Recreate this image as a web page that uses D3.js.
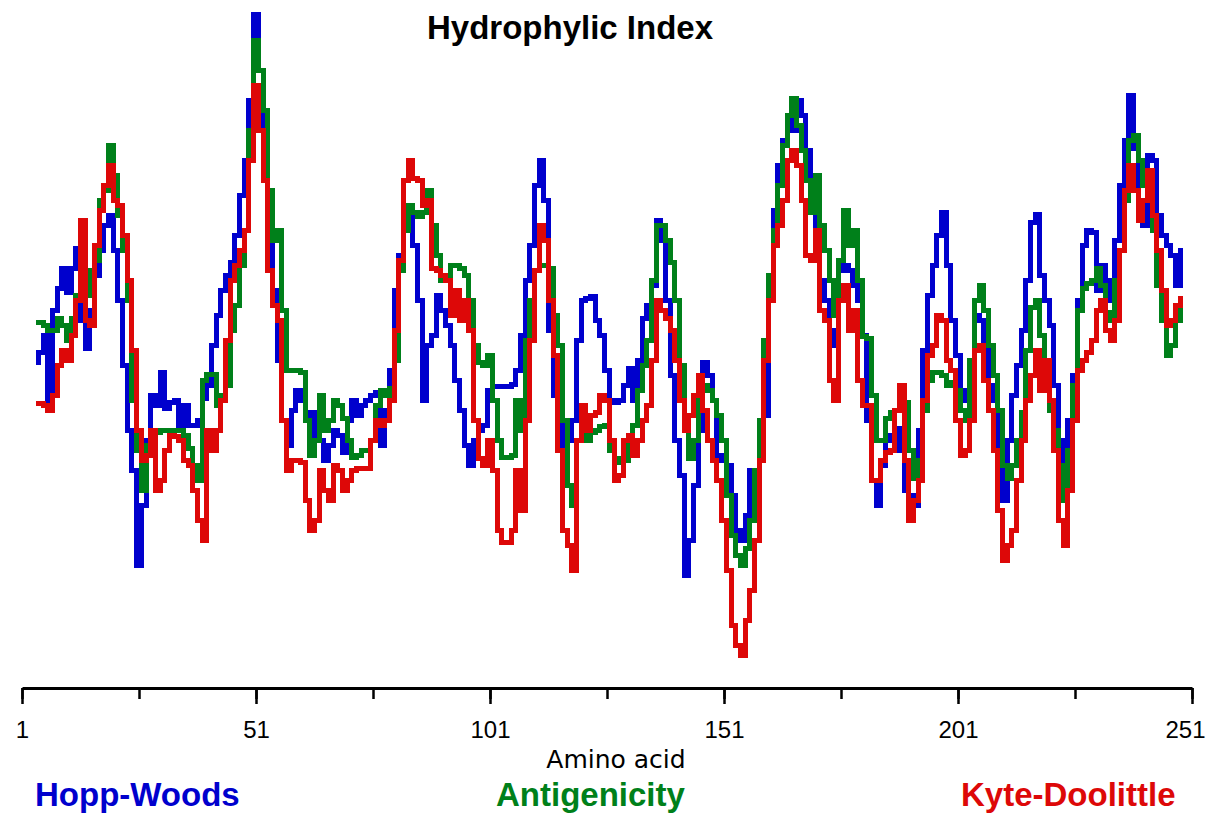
<!DOCTYPE html>
<meta charset="utf-8">
<script src="https://d3js.org/d3.v7.min.js"></script>
<style>
  body { margin: 0; background: #fff; }
  .axis text { font-family: "Liberation Sans", Arial, sans-serif; font-size: 24px; fill: #000; }
</style>
<svg id="chart" width="1210" height="815"></svg>

<script>

// Window-averaged profiles, one value per residue, starting at residue 4
const firstResidue = 4;

const hoppWoods = [
  0.18, 0.28, 0.45, -0.25, 0.70, 0.92, 1.12, 0.88, 1.12, 1.32,
  0.60, 0.32, 0.70, 1.05, 1.30, 1.55, 1.65, 1.30, 0.80, 0.15,
  -0.50, -0.90, -1.85, -1.25, -0.60, -0.15, -0.25, 0.08, -0.28, -0.22,
  -0.20, -0.48, -0.25, -0.45, -0.45, -0.40, -0.18, -0.05, 0.35, 0.65,
  0.90, 1.05, 1.18, 1.45, 1.85, 2.20, 2.80, 3.66, 3.10, 2.30,
  1.50, 0.90, 0.20, -0.40, -0.65, -0.30, -0.10, -0.20, -0.35, -0.32,
  -0.55, -0.60, -0.80, -0.65, -0.50, -0.55, -0.72, -0.40, -0.20, -0.35,
  -0.25, -0.20, -0.15, -0.12, -0.65, -0.30, 0.10, 0.90, 1.25, 1.50,
  1.65, 1.35, 0.80, -0.20, 0.35, 0.45, 0.85, 0.70, 0.55, 0.35,
  0.00, -0.30, -0.65, -0.85, -0.60, -0.50, -0.45, -0.10, -0.06, -0.06,
  -0.06, -0.06, -0.04, 0.10, 0.45, 1.00, 1.35, 1.95, 2.20, 1.80,
  0.50, -0.15, -0.40, -0.65, -0.60, -0.40, 0.40, 0.80, 0.82, 0.84,
  0.60, 0.45, 0.10, -0.20, -0.22, -0.20, -0.05, 0.12, -0.20, 0.20,
  0.62, 0.75, 0.95, 1.60, 1.40, 0.80, 0.05, -0.60, -0.95, -1.95,
  -1.60, -1.05, -0.50, 0.18, 0.05, -0.20, -0.75, -0.80, -0.85, -1.15,
  -1.50, -1.60, -1.35, -0.90, -1.00, -0.50, -0.35, 0.90, 1.70, 2.15,
  2.40, 2.65, 2.50, 2.80, 2.65, 2.30, 1.85, 1.20, 1.00, 0.80,
  0.50, 0.35, 1.10, 1.15, 1.10, 0.95, 0.80, 0.45, -0.40, -1.00,
  -1.25, -0.85, -0.60, -0.55, -0.48, -0.70, -1.10, -1.15, -1.25, -0.50,
  0.30, 0.85, 1.15, 1.45, 1.68, 1.15, 0.60, 0.25, -0.10, -0.20,
  0.20, 0.65, 0.60, 0.35, -0.05, -0.20, -0.80, -1.20, -0.60, -0.15,
  0.15, 0.50, 1.00, 1.58, 1.66, 1.05, 0.80, 0.55, -0.05, -0.60,
  -1.00, -0.40, 0.05, 0.80, 1.35, 1.50, 1.48, 0.90, 1.15, 1.00,
  0.80, 1.40, 1.95, 2.40, 2.85, 2.32, 1.80, 1.55, 2.25, 2.20,
  1.65, 1.45, 1.35, 1.25, 0.95, 1.30
];

const antigenicity = [
  0.58, 0.58, 0.55, 0.50, 0.50, 0.62, 0.55, 0.40, 0.62, 0.85,
  1.30, 1.10, 0.85, 1.20, 1.80, 1.90, 2.35, 2.05, 1.65, 1.30,
  0.80, -0.20, -0.70, -1.10, -0.65, -0.52, -0.52, -0.50, -0.50, -0.50,
  -0.50, -0.50, -0.55, -0.68, -0.85, -1.00, 0.00, 0.06, 0.06, -0.25,
  -0.15, -0.05, 0.50, 0.75, 1.15, 1.50, 2.50, 3.40, 3.10, 2.70,
  1.90, 1.40, 1.50, 0.70, 0.10, 0.10, 0.10, 0.08, -0.40, -0.75,
  -0.60, -0.15, -0.50, -0.40, -0.20, -0.25, -0.38, -0.60, -0.77, -0.75,
  -0.70, -0.70, -0.60, -0.25, -0.10, -0.15, -0.08, 0.20, 1.10, 1.50,
  1.75, 1.68, 1.64, 1.68, 1.90, 1.55, 1.25, 1.00, 1.05, 1.15,
  1.15, 1.12, 1.05, 0.80, 0.35, 0.18, 0.15, 0.25, -0.20, -0.60,
  -0.77, -0.77, -0.75, -0.20, -0.50, 0.40, 0.80, 1.10, 1.15, 1.15,
  1.12, 0.65, 0.35, -0.40, -1.05, -1.25, -0.60, -0.50, -0.60, -0.52,
  -0.50, -0.46, -0.45, -0.70, -0.78, -0.82, -0.80, -0.60, -0.45, -0.10,
  0.15, 0.40, 1.00, 1.55, 1.55, 1.40, 1.18, 0.80, 0.15, -0.50,
  -0.78, -0.60, -0.15, -0.05, -0.10, -0.20, -0.35, -0.60, -1.15, -1.55,
  -1.75, -1.85, -1.68, -1.40, -0.90, -0.40, 0.40, 1.05, 1.50, 1.95,
  2.35, 2.65, 2.82, 2.55, 2.30, 2.00, 1.68, 2.05, 1.55, 1.30,
  1.00, 0.65, 1.20, 1.70, 1.35, 1.50, 1.00, 0.44, 0.42, -0.15,
  -0.60, -0.60, -0.38, -0.32, -0.30, -0.20, -0.22, -0.70, -0.98, -0.80,
  -0.30, 0.00, 0.08, 0.08, 0.05, -0.05, -0.02, -0.10, -0.30, -0.40,
  0.20, 0.80, 0.95, 0.70, 0.35, 0.05, -0.30, -0.85, -0.98, -0.85,
  -0.60, -0.32, 0.30, 0.73, 0.80, 0.45, -0.05, -0.30, -0.50, -0.85,
  -1.20, -0.70, -0.05, 0.70, 0.92, 0.97, 1.00, 1.12, 0.95, 0.68,
  0.60, 1.00, 1.30, 1.80, 2.40, 2.45, 2.20, 1.95, 1.85, 1.50,
  0.95, 0.60, 0.25, 0.35, 0.60, 0.75
];

const kyteDoolittle = [
  -0.23, -0.23, -0.25, -0.30, -0.15, 0.15, 0.30, 0.20, 0.45, 0.80,
  1.60, 0.60, 0.55, 1.35, 1.70, 1.95, 2.15, 1.80, 1.75, 1.45,
  1.00, 0.30, -0.50, -0.80, -0.75, -0.50, -1.10, -1.00, -0.70, -0.55,
  -0.56, -0.60, -0.80, -0.85, -1.10, -1.40, -1.60, -0.50, -0.70, -0.50,
  -0.20, 0.40, 1.00, 1.15, 1.30, 1.50, 2.20, 2.95, 2.50, 2.00,
  1.10, 0.75, 0.60, -0.40, -0.90, -0.80, -0.80, -0.82, -1.20, -1.50,
  -1.40, -0.90, -1.10, -1.20, -0.85, -0.90, -1.10, -1.00, -0.90, -0.88,
  -0.88, -0.88, -0.60, -0.40, -0.45, -0.40, -0.20, 0.50, 1.20, 2.00,
  2.20, 2.02, 2.00, 1.75, 1.80, 1.12, 1.10, 1.05, 1.00, 0.65,
  0.90, 0.60, 0.80, 0.50, -0.40, -0.78, -0.85, -0.60, -0.90, -1.50,
  -1.62, -1.62, -1.50, -0.90, -1.30, -0.40, 0.40, 1.10, 1.55, 1.40,
  0.80, 0.25, -0.70, -1.50, -1.65, -1.90, -0.60, -0.25, -0.50, -0.35,
  -0.32, -0.15, -0.20, -0.60, -1.00, -0.95, -0.60, -0.55, -0.75, -0.60,
  -0.40, -0.25, 0.20, 0.80, 0.70, 0.62, 0.50, 0.20, -0.20, -0.50,
  -0.35, -0.15, 0.05, -0.30, -0.60, -0.80, -1.00, -1.40, -1.90, -2.45,
  -2.65, -2.75, -2.40, -2.10, -1.60, -0.80, 0.20, 0.80, 1.35, 1.55,
  1.80, 2.20, 2.30, 2.15, 1.80, 1.25, 1.20, 1.50, 0.70, 0.60,
  0.00, -0.20, 0.80, 0.95, 0.50, 0.70, 0.00, -0.25, -0.25, -1.00,
  -1.00, -0.80, -0.72, -0.70, -0.30, -0.05, -0.80, -1.40, -1.20, -1.00,
  -0.20, 0.25, 0.35, 0.65, 0.60, 0.20, 0.10, -0.40, -0.75, -0.70,
  -0.40, 0.30, 0.35, 0.00, -0.30, -0.70, -1.30, -1.80, -1.65, -1.50,
  -1.00, -0.60, -0.20, 0.05, 0.30, -0.10, 0.20, -0.20, -0.70, -1.40,
  -1.65, -1.10, -0.40, 0.10, 0.20, 0.28, 0.40, 0.70, 0.80, 0.50,
  0.40, 0.60, 1.30, 1.90, 2.15, 1.90, 1.60, 1.80, 2.10, 1.65,
  1.30, 0.90, 0.55, 0.60, 0.75, 0.82
];

// x axis ticks: every 25 residues, labels every 50
const tickValues = [1, 26, 51, 76, 101, 126, 151, 176, 201, 226, 251];
const labelValues = [1, 51, 101, 151, 201, 251];

const seriesNames = ["Hopp-Woods", "Antigenicity", "Kyte-Doolittle"];
const seriesColors = ["#0000cd", "#00801a", "#dd0808"];

const svg = d3.select("#chart");

const x = d3.scaleLinear().domain([1, 251]).range([22, 1192]);
const y = d3.scaleLinear().domain([-3, 4]).range([680, -20]);

const line = d3.line()
  .x((d, i) => x(firstResidue + i))
  .y(d => y(d))
  .curve(d3.curveStep);

// draw order: blue under green under red
[hoppWoods, antigenicity, kyteDoolittle].forEach(function (series, k) {
  svg.append("path")
    .datum(series)
    .attr("d", line)
    .attr("fill", "none")
    .attr("stroke", seriesColors[k])
    .attr("stroke-width", 5)
    .attr("shape-rendering", "crispEdges");
});

// minor ticks + axis line
const minorAxis = svg.append("g")
  .attr("class", "axis")
  .attr("transform", "translate(0,688)")
  .call(d3.axisBottom(x).tickValues(tickValues).tickSize(11).tickSizeOuter(0).tickFormat(""));
minorAxis.select(".domain").attr("stroke", "#000").attr("stroke-width", 3);
minorAxis.selectAll(".tick line").attr("stroke", "#000").attr("stroke-width", 2.5);

// major ticks with labels
const majorAxis = svg.append("g")
  .attr("class", "axis")
  .attr("transform", "translate(0,688)")
  .call(d3.axisBottom(x).tickValues(labelValues).tickSize(16).tickPadding(17).tickFormat(d3.format("d")));
majorAxis.select(".domain").remove();
majorAxis.selectAll(".tick line").attr("stroke", "#000").attr("stroke-width", 2.5);
majorAxis.selectAll("text").attr("font-family", null).attr("font-size", null);
// keep the last label inside the page
majorAxis.selectAll(".tick text").filter(d => d === 251).attr("dx", -7);

// title and axis label
svg.append("text")
  .attr("x", 570).attr("y", 39)
  .attr("text-anchor", "middle")
  .style("font", "bold 33px 'Liberation Sans', Arial, sans-serif")
  .text("Hydrophylic Index");

svg.append("text")
  .attr("x", 616).attr("y", 768)
  .attr("text-anchor", "middle")
  .style("font", "25px 'DejaVu Sans', sans-serif")
  .text("Amino acid");

// legend
const legendX = [35, 496, 961];
svg.selectAll(".legend")
  .data(seriesNames)
  .enter().append("text")
  .attr("class", "legend")
  .attr("x", (d, i) => legendX[i])
  .attr("y", 806)
  .attr("fill", (d, i) => seriesColors[i])
  .style("font", "bold 33px 'Liberation Sans', Arial, sans-serif")
  .text(d => d);

</script>
